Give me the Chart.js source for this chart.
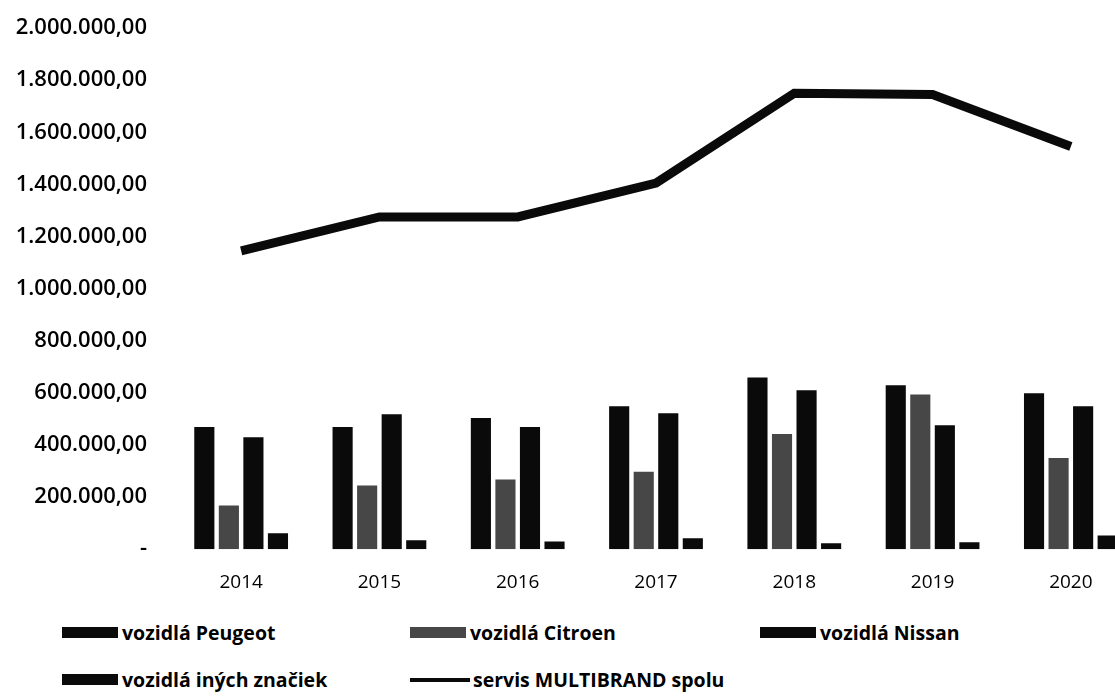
<!DOCTYPE html>
<html>
<head>
<meta charset="utf-8">
<script src="https://cdn.jsdelivr.net/npm/chart.js@4"></script>
<style>
html,body{margin:0;padding:0;background:#fff;overflow:hidden;width:1115px;height:699px;}
#wrap{position:absolute;left:0;top:0;width:1140px;height:612px;}
#legend{position:absolute;left:0;top:612px;width:1115px;height:87px;font-family:"Open Sans",sans-serif;font-weight:700;font-size:19.5px;color:#000;}
.item{position:absolute;display:flex;align-items:center;white-space:nowrap;}
.sw{display:inline-block;width:56px;height:11px;margin-right:4px;}
.ln{display:inline-block;width:60px;height:4px;margin-right:3px;}
</style>
</head>
<body>
<div id="wrap"><canvas id="chart"></canvas></div>
<div id="legend"></div>
<script>
/* data */
const years=["2014","2015","2016","2017","2018","2019","2020"];
const peugeot=[469000,469000,503000,549000,659000,629000,598000];
const citroen=[168000,244000,267000,297000,442000,594000,350000];
const nissan=[430000,518000,469000,522000,610000,476000,549000];
const ine=[61000,34000,30000,42000,23000,27000,53000];
const multibrand=[1145000,1275000,1275000,1405000,1750000,1745000,1545000];

const names=["vozidlá Peugeot","vozidlá Citroen","vozidlá Nissan","vozidlá iných značiek","servis MULTIBRAND spolu"];

function fmt(v){
if(v==0) return "-";
let s=Math.round(v).toString().replace(/\B(?=(\d{3})+(?!\d))/g,".");
return s+",00";
}

const bar=(label,data,color)=>({
type:"bar",label:label,data:data,backgroundColor:color,
barPercentage:0.82,categoryPercentage:0.71,order:2
});

const chart=new Chart(document.getElementById("chart"),{
type:"bar",
data:{
labels:years,
datasets:[
bar(names[0],peugeot,"#0a0a0a"),
bar(names[1],citroen,"#474747"),
bar(names[2],nissan,"#0a0a0a"),
bar(names[3],ine,"#0a0a0a"),
{type:"line",label:names[4],data:multibrand,borderColor:"#0a0a0a",borderWidth:9,
pointRadius:0,fill:false,tension:0,order:1}
]
},
options:{
responsive:true,
maintainAspectRatio:false,
animation:false,
layout:{padding:{top:0,right:0,left:0,bottom:4}},
plugins:{legend:{display:false},tooltip:{enabled:false}},
scales:{
x:{
grid:{display:false},border:{display:false},
ticks:{color:"#000",padding:14,font:{family:"Open Sans",size:19}}
},
y:{
min:0,max:2000000,
grid:{display:false},border:{display:false},
afterFit:function(s){s.width=172;},
ticks:{stepSize:200000,color:"#000",padding:17,
font:{family:"Open Sans",size:22,weight:"600",lineHeight:1},
callback:v=>fmt(v)}
}
}
}
});

/* html legend */
const pos=[[62,21],[410,21],[760,21],[62,68],[410,68]];
const lg=document.getElementById("legend");
chart.data.datasets.forEach((d,i)=>{
let it=document.createElement("div");
it.className="item";
it.style.left=pos[i][0]+"px";
it.style.top=(pos[i][1]-14)+"px";
let sw=document.createElement("span");
if(d.type=="line"){sw.className="ln";sw.style.background=d.borderColor;}
else{sw.className="sw";sw.style.background=d.backgroundColor;}
it.appendChild(sw);
let t=document.createElement("span");
t.textContent=d.label;
it.appendChild(t);
lg.appendChild(it);
});
</script>
</body>
</html>
